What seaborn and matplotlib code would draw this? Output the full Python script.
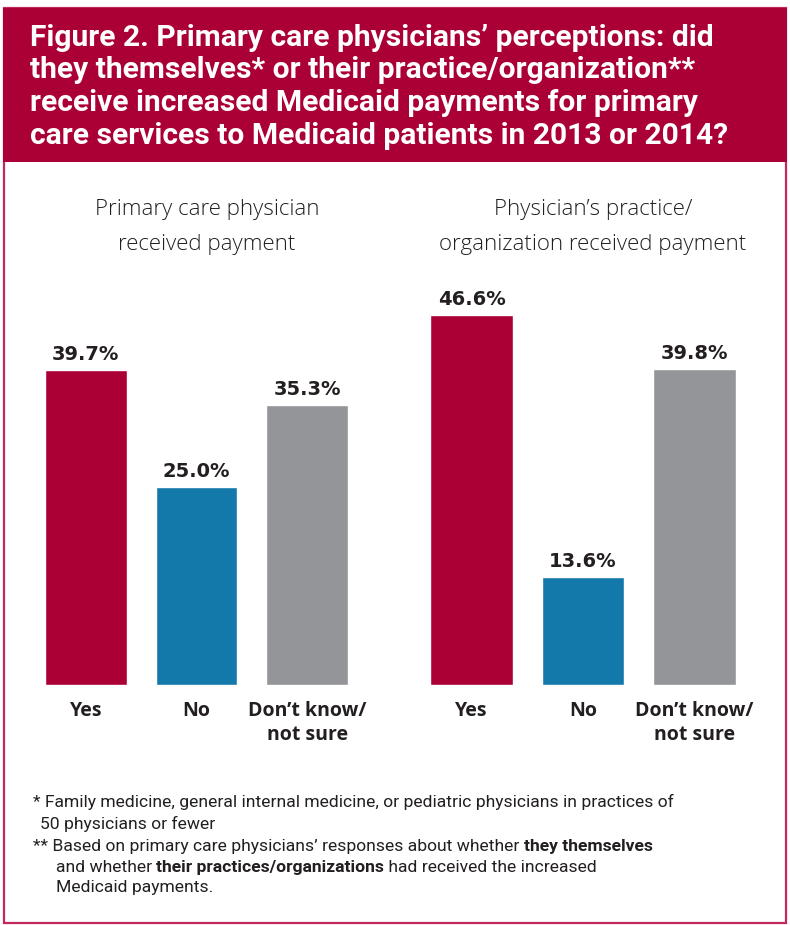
import seaborn as sns
import matplotlib.pyplot as plt
import pandas as pd
from matplotlib.patches import Rectangle

categories = ["Yes", "No", "Don\u2019t know/\nnot sure"]
physician_vals = [39.7, 25.0, 35.3]
practice_vals = [46.6, 13.6, 39.8]
panel_titles = [["Primary care physician", "received payment"],
                ["Physician\u2019s practice/", "organization received payment"]]
title_lines = ["Figure 2. Primary care physicians\u2019 perceptions: did",
               "they themselves* or their practice/organization**",
               "receive increased Medicaid payments for primary",
               "care services to Medicaid patients in 2013 or 2014?"]

CRIMSON = "#AB0036"
BLUE = "#1379AA"
GRAY = "#939598"
TXT = "#231F20"
palette = [CRIMSON, BLUE, GRAY]

sns.set_theme(style="white")
plt.rcParams["font.family"] = ["DejaVu Sans"]

W, H = 790, 925
fig = plt.figure(figsize=(W / 100, H / 100), dpi=100)


def fx(px):
    return px / W


def fy(py):
    return 1 - py / H


# frame and header band
fig.patches.append(Rectangle((fx(4), fy(923)), fx(782), 915 / H, transform=fig.transFigure,
                             facecolor="white", edgecolor="#C2285A", linewidth=1.6, zorder=-5))
fig.patches.append(Rectangle((fx(3), fy(162)), fx(784), 154 / H, transform=fig.transFigure,
                             facecolor=CRIMSON, edgecolor="none", zorder=-4))
for i, line in enumerate(title_lines):
    fig.text(fx(30), fy(46 + 32.5 * i), line, color="white", fontsize=21.6, fontweight="bold",
             family=["Roboto", "DejaVu Sans"], va="baseline", ha="left")

panels = [(physician_vals, 30.5, 362.5, 207), (practice_vals, 416, 750, 593)]
bar_bottom, bar_top = 685, 288.5
for (vals, x0, x1, tx), ptitle in zip(panels, panel_titles):
    ax = fig.add_axes([fx(x0), fy(bar_bottom), fx(x1 - x0), (bar_bottom - bar_top) / H])
    ax.patch.set_alpha(0)
    df = pd.DataFrame({"category": categories, "value": vals})
    sns.barplot(data=df, x="category", y="value", hue="category", palette=palette,
                width=0.74, legend=False, ax=ax, saturation=1)
    ax.set_ylim(0, 50)
    ax.set_xlim(-0.5, 2.5)
    for i, v in enumerate(vals):
        ax.annotate(f"{v:.1f}%", (i, v), xytext=(0, 7.2), textcoords="offset points",
                    ha="center", va="baseline", fontsize=14, fontweight="bold", color=TXT)
    ax.set_xlabel("")
    ax.set_ylabel("")
    ax.set_yticks([])
    ax.set_xticks(range(3))
    ax.set_xticklabels(categories, fontsize=14, fontweight="bold", color=TXT,
                       family=["Open Sans", "DejaVu Sans"], linespacing=1.3)
    ax.tick_params(axis="x", length=0, pad=11.5)
    sns.despine(ax=ax, left=True, bottom=True)
    for j, line in enumerate(ptitle):
        fig.text(fx(tx), fy(215 + 35 * j), line, ha="center", va="baseline", fontsize=16,
                 color=TXT, family=["Open Sans", "DejaVu Sans"], fontweight="light")

# footnotes with bold runs
foot_lines = [
    (33, 807, [("* Family medicine, general internal medicine, or pediatric physicians in practices of", "normal")]),
    (40, 829, [("50 physicians or fewer", "normal")]),
    (33, 851, [("** Based on primary care physicians\u2019 responses about whether ", "normal"),
               ("they themselves", "bold")]),
    (56, 872, [("and whether ", "normal"), ("their practices/organizations", "bold"),
               (" had received the increased", "normal")]),
    (56, 892, [("Medicaid payments.", "normal")]),
]
fig.canvas.draw()
renderer = fig.canvas.get_renderer()
for x, y, runs in foot_lines:
    cur = x
    for s, wt in runs:
        t = fig.text(fx(cur), fy(y), s, fontsize=12.6, fontweight=wt, color=TXT,
                     family=["Roboto", "DejaVu Sans"], ha="left", va="baseline")
        bb = t.get_window_extent(renderer)
        cur += bb.width

fig.savefig("out.png", dpi=100)
